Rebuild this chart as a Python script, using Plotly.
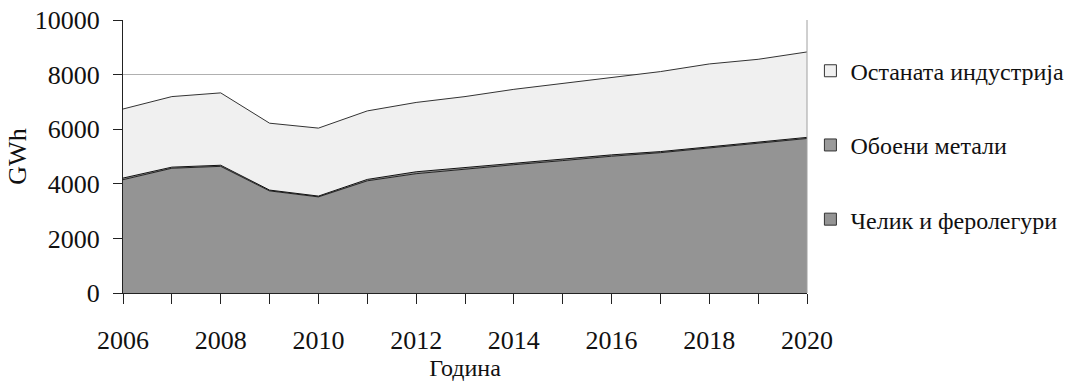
import plotly.graph_objects as go

years = list(range(2006, 2021))
celik = [4150, 4570, 4640, 3740, 3520, 4110, 4370, 4540, 4700, 4850, 5010, 5140, 5310, 5500, 5660]
oboeni = [60, 40, 40, 30, 30, 50, 70, 60, 60, 50, 50, 40, 50, 40, 40]
ostanata = [2530, 2585, 2650, 2450, 2490, 2510, 2540, 2595, 2700, 2780, 2830, 2930, 3030, 3020, 3130]

names = ["Челик и феролегури", "Обоени метали", "Останата индустрија"]
fills = ["#949494", "#9a9a9a", "#f0f0f0"]
lines = ["#222222", "#111111", "#333333"]
series = [celik, oboeni, ostanata]

ytick_vals = [0, 2000, 4000, 6000, 8000, 10000]
ytick_text = ["0", "2000", "4000", "6000", "8000", "10000"]
xtick_text = [str(y) if y % 2 == 0 else "" for y in years]

font_family = "Liberation Serif, Times New Roman, serif"

fig = go.Figure()
for nm, vals, fc, lc in zip(names, series, fills, lines):
    fig.add_trace(go.Scatter(
        x=years, y=vals, name=nm, stackgroup="one", mode="lines",
        line=dict(color=lc, width=1), fillcolor=fc, showlegend=False,
        hoverinfo="x+y+name"))

# legend entries (square markers), top to bottom
order = [2, 1, 0]
for k, i in enumerate(order):
    fig.add_trace(go.Scatter(
        x=[None], y=[None], name=names[i], mode="markers",
        marker=dict(symbol="square", size=12, color=fills[i], line=dict(color="#333333", width=1)),
        legendgroup="g%d" % k, showlegend=True))

fig.update_layout(
    width=1066, height=383,
    margin=dict(l=123, r=259, t=20, b=90, autoexpand=False),
    paper_bgcolor="white", plot_bgcolor="white",
    font=dict(family=font_family, size=24, color="#111111"),
    legend=dict(
        x=1.005, xanchor="left", y=0.895, yanchor="top",
        traceorder="grouped", tracegroupgap=40,
        font=dict(size=24, family=font_family, color="#111111"),
        itemwidth=30, bgcolor="rgba(0,0,0,0)"),
    xaxis=dict(
        range=[2006, 2020], tickmode="array", tickvals=years, ticktext=xtick_text,
        ticks="outside", ticklen=10, tickcolor="#222222", tickwidth=1,
        showline=True, linecolor="#222222", linewidth=1, showgrid=False,
        zeroline=False, ticklabelstandoff=14, automargin=False,
        ticklabeloverflow="allow",
        tickfont=dict(size=26, family=font_family, color="#111111"),
        title=dict(text="Година", font=dict(size=24, family=font_family, color="#111111"), standoff=2)),
    yaxis=dict(
        range=[0, 10000], tickmode="array", tickvals=ytick_vals, ticktext=ytick_text,
        ticks="outside", ticklen=9, tickcolor="#222222", tickwidth=1,
        showline=True, linecolor="#222222", linewidth=1,
        showgrid=True, gridcolor="#b0b0b0", gridwidth=1, zeroline=False,
        ticklabelstandoff=8, automargin=False, ticklabeloverflow="allow",
        tickfont=dict(size=26, family=font_family, color="#111111"),
        title=dict(text="GWh", font=dict(size=26, family=font_family, color="#111111"), standoff=0)),
)

# plot-area right border
fig.add_shape(type="line", xref="paper", yref="paper", x0=1, x1=1, y0=0, y1=1,
              line=dict(color="#a0a0a0", width=1), layer="above")

fig.write_html("out.html", config={"displayModeBar": False},
               post_script="document.body.style.margin='0';document.body.style.overflow='hidden';")
